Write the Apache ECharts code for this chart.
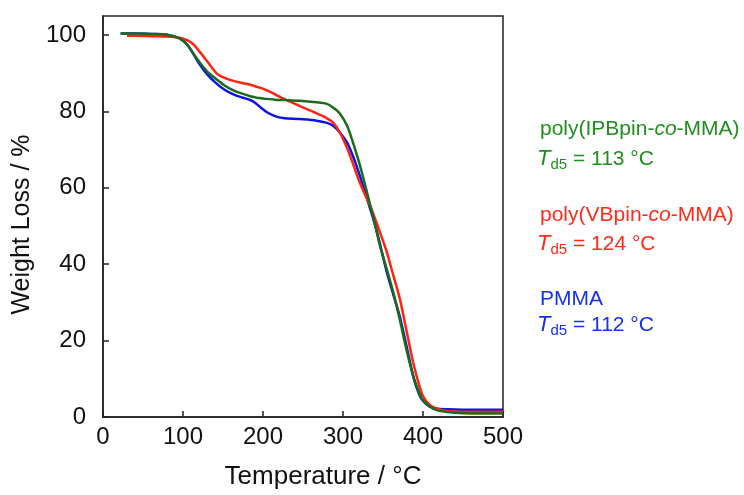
<!DOCTYPE html>
<html>
<head>
<meta charset="utf-8">
<script src="https://cdn.jsdelivr.net/npm/echarts@6/dist/echarts.min.js"></script>
<style>
html,body{margin:0;padding:0;background:#fff;}
#chart{width:744px;height:495px;}
</style>
</head>
<body>
<div id="chart"></div>
<script>
var temperatures = [22, 30, 40, 60, 80, 95, 105, 113, 121, 130, 142, 152, 163, 175, 184, 190, 195, 205, 215, 225, 246, 267, 280, 288, 296, 305, 313, 321, 328, 334, 340, 346, 355, 363, 371, 380, 388, 395, 400, 408, 417, 430, 450, 475, 500];
var ipbpinWeight = [100.4, 100.4, 100.4, 100.3, 100.1, 99.2, 97.5, 95.2, 92.8, 90.5, 88.4, 86.8, 85.5, 84.6, 84.0, 83.7, 83.5, 83.3, 83.1, 83.0, 82.8, 82.4, 82.0, 81.0, 79.5, 76.3, 71.5, 66.0, 60.5, 55.5, 50.5, 45.0, 38.5, 32.5, 25.5, 17.0, 10.5, 6.5, 4.4, 2.8, 1.8, 1.3, 1.0, 0.9, 0.9];
var vbpinWeight = [null, 99.8, 99.8, 99.7, 99.6, 99.3, 98.7, 97.6, 95.6, 93.2, 90.0, 88.8, 88.0, 87.4, 87.0, 86.6, 86.3, 85.5, 84.5, 83.4, 81.4, 79.5, 78.2, 77.0, 74.5, 70.5, 66.0, 61.4, 58.0, 55.3, 52.0, 48.5, 43.0, 37.0, 31.0, 22.0, 14.0, 8.5, 5.5, 3.2, 2.2, 1.6, 1.4, 1.4, 1.4];
var pmmaWeight = [100.4, 100.4, 100.4, 100.3, 100.1, 99.2, 97.6, 95.0, 92.3, 89.8, 87.3, 85.7, 84.5, 83.6, 83.0, 82.3, 81.4, 79.8, 78.8, 78.3, 78.0, 77.6, 77.0, 76.2, 74.5, 71.9, 68.0, 63.2, 58.5, 54.5, 50.3, 45.5, 37.7, 32.0, 26.3, 18.0, 10.5, 6.0, 4.2, 2.8, 2.2, 2.0, 1.9, 1.9, 1.9];
var xTicks = [0, 100, 200, 300, 400, 500];
var yTicks = [0, 20, 40, 60, 80, 100];
var seriesNames = ['poly(IPBpin-co-MMA)', 'poly(VBpin-co-MMA)', 'PMMA'];
var td5Values = [113, 124, 112];

function pairs(ys) {
  return temperatures.map(function (t, i) { return [t, ys[i]]; });
}

var FONT = '"Liberation Sans", Arial, Helvetica, sans-serif';
var chart = echarts.init(document.getElementById('chart'));

function nameRich(nm) {
  var k = nm.indexOf('-co-');
  if (k < 0) return '{n|' + nm + '}';
  return '{n|' + nm.slice(0, k + 1) + '}{i|co}{n|' + nm.slice(k + 3) + '}';
}

function legendBlock(idx, color, top1, top2) {
  return [
    {
      type: 'text', left: 540, top: top1,
      style: {
        text: nameRich(seriesNames[idx]),
        rich: {
          n: { fontFamily: FONT, fontSize: 21, fill: color, fontStyle: 'normal' },
          i: { fontFamily: FONT, fontSize: 21, fill: color, fontStyle: 'italic' }
        }
      }
    },
    {
      type: 'text', left: 537, top: top2,
      style: {
        text: '{t|T}{s|d5}{n| = ' + td5Values[idx] + ' °C}',
        rich: {
          t: { fontFamily: FONT, fontSize: 22, fill: color, fontStyle: 'italic' },
          s: { fontFamily: FONT, fontSize: 15, fill: color, padding: [12, 0, 0, 0] },
          n: { fontFamily: FONT, fontSize: 21, fill: color }
        }
      }
    }
  ];
}

var option = {
  animation: false,
  backgroundColor: '#fff',
  grid: { left: 103, right: 241, top: 16, bottom: 78, show: true, borderColor: '#222', borderWidth: 1.5, backgroundColor: 'transparent' },
  xAxis: {
    type: 'value', min: 0, max: 500, interval: 100,
    name: 'Temperature / °C', nameLocation: 'middle', nameGap: 47,
    nameTextStyle: { fontFamily: FONT, fontSize: 26, color: '#111', padding: [0, 0, 0, 40] },
    axisLine: { show: true, onZero: false, lineStyle: { color: '#222', width: 1.5 } },
    axisTick: { show: true, inside: true, length: 6, lineStyle: { color: '#222', width: 1.5 } },
    axisLabel: {
      fontFamily: FONT, fontSize: 24, color: '#111', margin: 8,
      formatter: function (v) { return xTicks.indexOf(v) >= 0 ? String(v) : ''; }
    },
    splitLine: { show: false }
  },
  yAxis: {
    type: 'value', min: 0, max: 105, interval: 20,
    name: 'Weight Loss / %', nameLocation: 'middle', nameGap: 62,
    nameTextStyle: { fontFamily: FONT, fontSize: 25, color: '#111', padding: [0, 16, 0, 0] },
    axisLine: { show: true, onZero: false, lineStyle: { color: '#222', width: 1.5 } },
    axisTick: { show: true, inside: true, length: 6, lineStyle: { color: '#222', width: 1.5 } },
    axisLabel: {
      fontFamily: FONT, fontSize: 24, color: '#111', margin: 17, showMaxLabel: false,
      formatter: function (v) { return yTicks.indexOf(v) >= 0 ? String(v) : ''; }
    },
    splitLine: { show: false }
  },
  series: [
    { name: seriesNames[2], type: 'line', data: pairs(pmmaWeight), showSymbol: false, smooth: 0.3, lineStyle: { color: '#0a14e6', width: 2.5 }, itemStyle: { color: '#0a14e6' } },
    { name: seriesNames[1], type: 'line', data: pairs(vbpinWeight), showSymbol: false, smooth: 0.3, lineStyle: { color: '#ff2314', width: 2.5 }, itemStyle: { color: '#ff2314' } },
    { name: seriesNames[0], type: 'line', data: pairs(ipbpinWeight), showSymbol: false, smooth: 0.3, lineStyle: { color: '#1c6a1c', width: 2.5 }, itemStyle: { color: '#1c6a1c' } }
  ],
  graphic: [].concat(
    legendBlock(0, '#1f8f1f', 119, 148),
    legendBlock(1, '#ff2a1a', 205, 233),
    legendBlock(2, '#1430f0', 289, 314)
  )
};
chart.setOption(option);
</script>
</body>
</html>
